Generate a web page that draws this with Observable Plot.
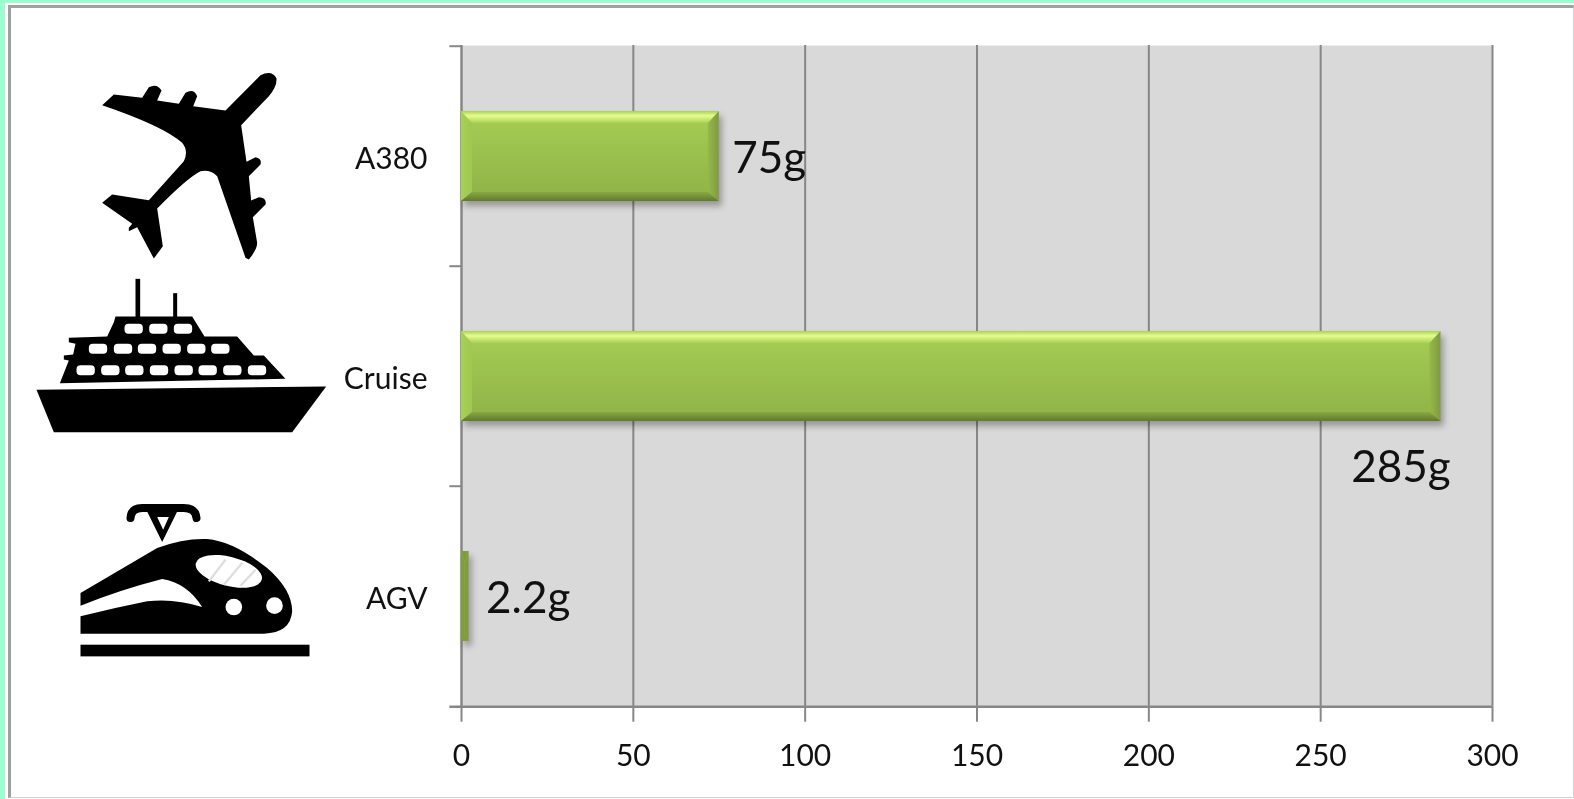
<!DOCTYPE html>
<html>
<head>
<meta charset="utf-8">
<script src="https://cdn.jsdelivr.net/npm/d3@7"></script>
<script src="https://cdn.jsdelivr.net/npm/@observablehq/plot@0.6"></script>
<style>
html,body{margin:0;padding:0;width:1574px;height:799px;overflow:hidden;background:#99ffcc}
#outer{position:absolute;left:5px;top:3px;width:1569px;height:796px;background:#fff}
#inner{position:absolute;left:3px;top:2px;right:0;bottom:1px;border:solid #a0a0a0;border-width:3px 1px 1px 3px;background:#fff;border-right-color:#d0d0d0;border-bottom-color:#d0d0d0}
#chart{position:absolute;left:0;top:0}
#chart svg{background:transparent;filter:blur(.55px);display:block}
</style>
</head>
<body>
<div id="outer"><div id="inner"></div></div>
<div id="chart"></div>
<script>
const categories = ["A380", "Cruise", "AGV"];
const values = [75, 285, 2.2];
const labels = ["75g", "285g", "2.2g"];
const xTicks = [0, 50, 100, 150, 200, 250, 300];

const plane = `<svg xmlns="http://www.w3.org/2000/svg" viewBox="0 0 1440 810"><path d="M780 222Q815 205 828 232Q830 255 805 285L722 372L738 482L765 468Q785 472 780 490L745 525L752 598L775 588Q800 590 795 610L757 648L770 725Q770 745 745 775L735 770L650 525Q630 505 600 510Q560 530 470 622L487 735L460 772L410 678L385 690L385 680L395 668L305 605L335 580L445 597L550 480Q565 450 545 425Q490 375 305 312L340 280L425 290L445 258Q470 245 483 268L470 298L535 308L555 275Q580 260 590 285L578 315L675 328Z"/></svg>`;

const windowRows = [[190, [372, 446, 520]], [250, [265, 340, 412, 486, 560, 632]], [314, [228, 302, 374, 448, 522, 594, 668, 742]]];
const ship = `<svg xmlns="http://www.w3.org/2000/svg" viewBox="0 0 1440 600"><path d="M108 388L977 378L875 515L160 515Z"/><path d="M178 368L855 355L790 285L760 285L710 228L612 228L575 168L345 168L340 185L320 228L205 232L205 245L225 250L218 282L190 285L190 297L205 300Z"/><rect x="405" y="55" width="14" height="120"/><rect x="518" y="98" width="12" height="75"/>${windowRows.map(([t, xs]) => xs.map(l => `<rect x="${l}" y="${t}" width="55" height="30" rx="12" fill="#fff"/>`).join("")).join("")}</svg>`;

const train = `<svg xmlns="http://www.w3.org/2000/svg" viewBox="0 0 1440 957"><path d="M390 115Q392 85 425 85L550 85Q585 85 588 115" fill="none" stroke="#000" stroke-width="24" stroke-linecap="round"/><path fill-rule="evenodd" d="M438 92L532 92L485 187ZM470 112L505 112L488 150Z"/><path d="M240 340L470 205Q550 175 620 178Q700 185 800 265Q875 330 875 395Q870 460 790 462L240 462L240 410Q340 385 440 365Q520 355 605 382Q560 310 485 298Q360 330 240 378Z"/><ellipse cx="685" cy="275" rx="102" ry="44" transform="rotate(14 685 275)" fill="#fff"/><path d="M625 305L675 240M670 315L725 250M720 318L765 270" stroke="#dedede" stroke-width="7"/><circle cx="700" cy="382" r="25" fill="#fff"/><circle cx="822" cy="378" r="25" fill="#fff"/><rect x="240" y="495" width="687" height="35"/></svg>`;

const dataUri = s => "data:image/svg+xml;utf8," + encodeURIComponent(s);
const rows = categories.map((category, i) => ({category, value: values[i], label: labels[i]}));
const frameH = 661.7, step = frameH / 3;
const gridColor = "#878787";
const ink = "#111111";

const defs = () => d3.create("svg:defs").html(`
<linearGradient id="face" x1="0" y1="0" x2="0" y2="1"><stop offset="0" stop-color="#a6ce53"/><stop offset="1" stop-color="#8fb248"/></linearGradient>
<linearGradient id="bevTop" x1="0" y1="0" x2="0" y2="1"><stop offset="0" stop-color="#a8d24f"/><stop offset=".4" stop-color="#e6fd90"/><stop offset="1" stop-color="#a9d054"/></linearGradient>
<linearGradient id="bevBottom" x1="0" y1="0" x2="0" y2="1"><stop offset="0" stop-color="#8aa842"/><stop offset="1" stop-color="#5f7a2e"/></linearGradient>
<linearGradient id="bevLeft" x1="0" y1="0" x2="1" y2="0"><stop offset="0" stop-color="#a8d056"/><stop offset="1" stop-color="#a0c750"/></linearGradient>
<linearGradient id="bevRight" x1="0" y1="0" x2="1" y2="0"><stop offset="0" stop-color="#96b84b"/><stop offset="1" stop-color="#7e9c3c"/></linearGradient>`).node();

function bevel(index, scales, vals, dims, ctx, next) {
  const g = next(index, scales, vals, dims, ctx);
  g.style.filter = "drop-shadow(3px 5px 3px rgba(0,0,0,.3))";
  const sel = d3.select(g);
  sel.selectAll("rect").each(function () {
    const x = +this.getAttribute("x"), y = +this.getAttribute("y");
    const w = +this.getAttribute("width"), h = +this.getAttribute("height");
    const narrow = w < 22;
    const bh = Math.min(11, w / 2), bt = 12, bb = 9;
    const poly = (pts, fill) => sel.append("polygon").attr("points", pts.map(p => p.join(",")).join(" ")).attr("fill", narrow ? "#7f9c3e" : fill);
    poly([[x, y], [x + bh, y + bt], [x + bh, y + h - bb], [x, y + h]], "url(#bevLeft)");
    poly([[x + w, y], [x + w - bh, y + bt], [x + w - bh, y + h - bb], [x + w, y + h]], "url(#bevRight)");
    poly([[x, y], [x + w, y], [x + w - bh, y + bt], [x + bh, y + bt]], "url(#bevTop)");
    poly([[x, y + h], [x + w, y + h], [x + w - bh, y + h - bb], [x + bh, y + h - bb]], "url(#bevBottom)");
  });
  return g;
}

const labelFont = {fontSize: 44, fill: ink};
const iconOpts = {frameAnchor: "left", y: "category", width: 0, height: 0};

const chart = Plot.plot({
  width: 1574,
  height: 799,
  marginLeft: 461,
  marginRight: 82,
  marginTop: 45,
  marginBottom: 92.3,
  style: {fontFamily: "Lato, sans-serif", fontSize: "30px", background: "transparent"},
  x: {domain: [0, 300], label: null},
  y: {domain: categories, paddingInner: 0.59, paddingOuter: 0.295, label: null},
  marks: [
    defs,
    Plot.frame({fill: "#d9d9d9", stroke: null}),
    Plot.gridX(xTicks.slice(1), {stroke: gridColor, strokeOpacity: 1, strokeWidth: 2}),
    Plot.ruleX([0], {stroke: gridColor, strokeWidth: 2.5}),
    Plot.ruleY(categories, {y: d => d, x1: -3.4, x2: 0, dy: -step / 2, stroke: gridColor, strokeWidth: 2}),
    Plot.ruleY(categories.slice(-1), {y: d => d, x1: -3.4, x2: 300, dy: step / 2, stroke: gridColor, strokeWidth: 2.5}),
    Plot.axisX(xTicks, {anchor: "bottom", tickSize: 15, tickPadding: 22, stroke: gridColor, fill: ink, strokeWidth: 2, label: null, tickFormat: d => String(d)}),
    Plot.axisY(categories, {anchor: "left", tickSize: 0, tickPadding: 34, fill: ink, label: null, dy: 3}),
    Plot.barX(rows, {x: "value", y: "category", fill: "url(#face)", render: bevel}),
    Plot.text(rows.filter(d => d.category === "A380"), {x: "value", y: "category", text: "label", textAnchor: "start", dx: 13, dy: 2, ...labelFont}),
    Plot.text(rows.filter(d => d.category === "Cruise"), {x: "value", y: "category", text: "label", textAnchor: "middle", dx: -40, dy: 91, ...labelFont}),
    Plot.text(rows.filter(d => d.category === "AGV"), {x: "value", y: "category", text: "label", textAnchor: "start", dx: 17, dy: 2, ...labelFont}),
    Plot.image(rows.slice(0, 1), {...iconOpts, src: () => dataUri(plane), width: 480, height: 270, dx: -221, dy: -20.3}),
    Plot.image(rows.slice(1, 2), {...iconOpts, src: () => dataUri(ship), width: 480, height: 200, dx: -221, dy: -16}),
    Plot.image(rows.slice(2, 3), {...iconOpts, src: () => dataUri(train), width: 480, height: 319, dx: -221, dy: 42.7})
  ]
});
document.getElementById("chart").append(chart);
</script>
</body>
</html>
